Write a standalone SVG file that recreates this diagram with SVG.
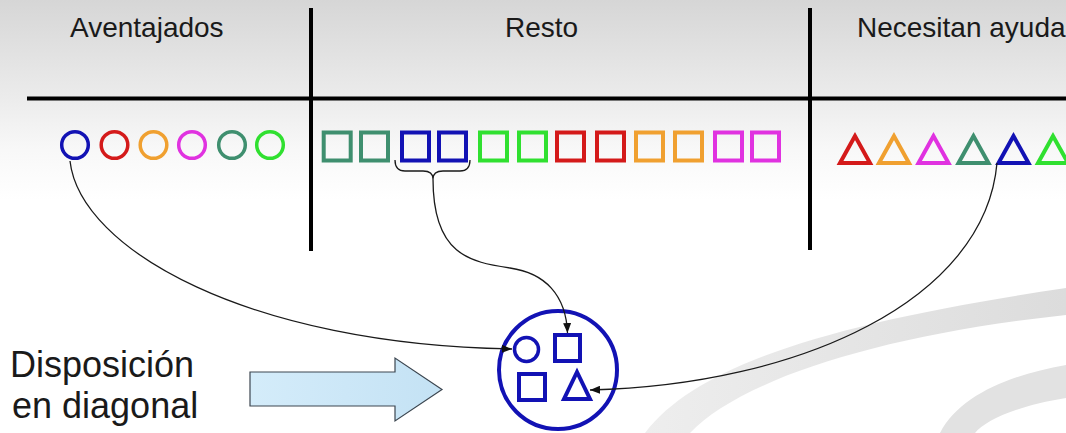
<svg xmlns="http://www.w3.org/2000/svg" width="1066" height="433" viewBox="0 0 1066 433">
  <defs>
    <linearGradient id="bg" x1="0" y1="0" x2="0" y2="200" gradientUnits="userSpaceOnUse">
      <stop offset="0" stop-color="#d6d6d6"/>
      <stop offset="0.5" stop-color="#ececec"/>
      <stop offset="0.75" stop-color="#f8f8f8"/>
      <stop offset="1" stop-color="#ffffff"/>
    </linearGradient>
    <linearGradient id="sw" x1="640" y1="0" x2="1066" y2="0" gradientUnits="userSpaceOnUse">
      <stop offset="0" stop-color="#eeeeee"/>
      <stop offset="1" stop-color="#dcdcdc"/>
    </linearGradient>
    <linearGradient id="arrowFill" x1="0" y1="0" x2="1" y2="0">
      <stop offset="0" stop-color="#d4ecfa"/>
      <stop offset="1" stop-color="#c4e2f4"/>
    </linearGradient>
    <marker id="ah" viewBox="0 0 10 8" refX="10" refY="4" markerWidth="10" markerHeight="8" markerUnits="userSpaceOnUse" orient="auto">
      <path d="M0,0 L10,4 L0,8 z" fill="#111"/>
    </marker>
  </defs>
  <style>
    .lbl { font-family: "Liberation Sans", Arial, sans-serif; fill: #1a1a1a; }
    .top { font-size: 28px; }
    .big { font-size: 36px; }
    .rule { stroke: #000; stroke-width: 4; fill: none; }
    .sh { fill: none; stroke-width: 4; }
    .ci { fill: none; stroke-width: 3.5; }
    .conn { fill: none; stroke: #1a1a1a; stroke-width: 1.3; }
    .blue { stroke: #1212b4; }
    .red { stroke: #d41a1a; }
    .orange { stroke: #f0a030; }
    .magenta { stroke: #e032e0; }
    .teal { stroke: #3f8f6f; }
    .green { stroke: #30e030; }
  </style>

  <rect x="0" y="0" width="1066" height="433" fill="url(#bg)"/>
  <g id="swooshes">
    <path d="M645,433 C700,360 850,320 1066,288 L1066,315 C880,335 740,380 690,433 Z" fill="url(#sw)"/>
    <path d="M940,433 C960,395 1010,375 1066,365 L1066,398 C1020,405 985,420 975,433 Z" fill="#e2e2e2"/>
  </g>

  <g id="table">
    <line class="rule" x1="27" y1="98.5" x2="1066" y2="98.5"/>
    <line class="rule" x1="311" y1="8" x2="311" y2="251"/>
    <line class="rule" x1="810" y1="8" x2="810" y2="250"/>
    <text class="lbl top" x="70" y="37">Aventajados</text>
    <text class="lbl top" x="505" y="37">Resto</text>
    <text class="lbl top" x="857" y="37">Necesitan ayuda</text>
  </g>

  <g id="aventajados">
    <circle class="ci blue" cx="75" cy="145" r="13.3"/>
    <circle class="ci red" cx="114.5" cy="145" r="13.3"/>
    <circle class="ci orange" cx="153.5" cy="145" r="13.3"/>
    <circle class="ci magenta" cx="192" cy="145" r="13.3"/>
    <circle class="ci teal" cx="232" cy="145" r="13.3"/>
    <circle class="ci green" cx="270" cy="145" r="13.3"/>
  </g>

  <g id="resto">
    <rect class="sh teal" x="323.7" y="132.5" width="27" height="28"/>
    <rect class="sh teal" x="361" y="132.5" width="27" height="28"/>
    <rect class="sh blue" x="402" y="132.5" width="27" height="28"/>
    <rect class="sh blue" x="439" y="132.5" width="27" height="28"/>
    <rect class="sh green" x="480" y="132.5" width="27" height="28"/>
    <rect class="sh green" x="519" y="132.5" width="27" height="28"/>
    <rect class="sh red" x="557" y="132.5" width="27" height="28"/>
    <rect class="sh red" x="597" y="132.5" width="27" height="28"/>
    <rect class="sh orange" x="636" y="132.5" width="27" height="28"/>
    <rect class="sh orange" x="675" y="132.5" width="27" height="28"/>
    <rect class="sh magenta" x="715" y="132.5" width="27" height="28"/>
    <rect class="sh magenta" x="752" y="132.5" width="27" height="28"/>
    <path class="conn" d="M395,160 Q395,171 405,171 L423,171 Q433,171 433,179 Q433,171 443,171 L460,171 Q470,171 470,160"/>
  </g>

  <g id="necesitan">
    <polygon class="sh red" points="855,136 840,163 870,163"/>
    <polygon class="sh orange" points="894,136 879,163 909,163"/>
    <polygon class="sh magenta" points="933.5,136 918.5,163 948.5,163"/>
    <polygon class="sh teal" points="973.5,136 958.5,163 988.5,163"/>
    <polygon class="sh blue" points="1013.5,136 998.5,163 1028.5,163"/>
    <polygon class="sh green" points="1053,136 1038,163 1068,163"/>
  </g>

  <g id="grupo">
    <circle class="sh blue" cx="558" cy="370" r="59"/>
    <circle class="ci blue" cx="526.5" cy="349.5" r="12"/>
    <rect class="sh blue" x="555" y="335" width="25" height="26"/>
    <rect class="sh blue" x="519" y="374" width="26" height="26"/>
    <polygon class="sh blue" points="577,372 564,399 590,399"/>
  </g>

  <g id="disposicion">
    <text class="lbl big" x="10" y="377">Disposición</text>
    <text class="lbl big" x="12" y="418">en diagonal</text>
    <path d="M250,372 L395,372 L395,358 L442,389.5 L395,421 L395,406 L250,406 Z" fill="url(#arrowFill)" stroke="#3c4650" stroke-width="1.2" stroke-linejoin="miter"/>
  </g>

  <g id="connectors">
    <path class="conn" d="M70,161 C80,250 250,345 512,349" marker-end="url(#ah)"/>
    <path class="conn" d="M433,179 C433,255 470,262 510,268 C545,273 566,295 567.5,333" marker-end="url(#ah)"/>
    <path class="conn" d="M997,163 C985,300 800,385 590,390" marker-end="url(#ah)"/>
  </g>
</svg>
